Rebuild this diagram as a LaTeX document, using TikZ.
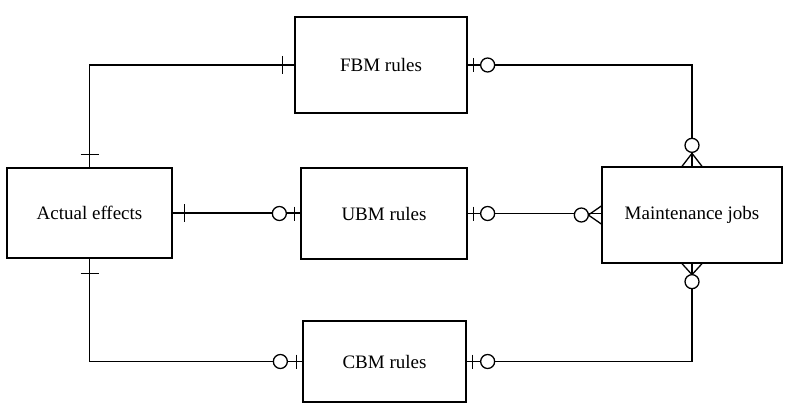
\documentclass[tikz,border=0pt]{standalone}
\usepackage{fontspec}
\setmainfont{Liberation Serif}
\begin{document}
\begin{tikzpicture}[x=1pt,y=-1pt,
  ent/.style={draw,line width=1.3pt,rectangle,inner sep=0pt,font=\fontsize{19}{22}\selectfont},
  conn/.style={line width=1.3pt},
  mk/.style={line width=1.3pt},
  ring/.style={line width=1.3pt,fill=white}]
\useasboundingbox (0,0) rectangle (787,412);
% entities
\node[ent,minimum width=172pt,minimum height=96pt] (fbm) at (381,65) {FBM rules};
\node[ent,minimum width=165pt,minimum height=90pt] (ae) at (89.5,213) {Actual effects};
\node[ent,minimum width=166pt,minimum height=91pt] (ubm) at (384,213.5) {UBM rules};
\node[ent,minimum width=163pt,minimum height=81pt] (cbm) at (384.5,361.5) {CBM rules};
\node[ent,minimum width=180pt,minimum height=96pt] (mj) at (692,215) {Maintenance jobs};
% connectors
\draw[conn] (fbm.west) -| (ae.north);
\draw[conn] (fbm.east) -| (mj.north);
\draw[conn] (ae.east) -- (ae.east -| ubm.west);
\draw[conn] (ubm.east) -- (ubm.east -| mj.west);
\draw[conn] (ae.south) |- (cbm.west);
\draw[conn] (mj.south) |- (cbm.east);
% FBM -- AE : one and only one at both ends
\draw[mk] ([xshift=-12pt]fbm.west) ++(0,-9) -- ++(0,18);
\draw[mk] ([yshift=13pt]ae.north) ++(-9,0) -- ++(18,0);
% FBM -- MJ : zero-or-one at FBM, zero-or-many at MJ
\draw[mk] ([xshift=6pt]fbm.east) ++(0,-7) -- ++(0,14);
\draw[ring] ([xshift=20pt]fbm.east) circle (7pt);
\draw[mk] ([xshift=-10pt]mj.north) -- ([yshift=13pt]mj.north) -- ([xshift=10pt]mj.north);
\draw[ring] ([yshift=21pt]mj.north) circle (7pt);
% AE -- UBM
\draw[mk] ([xshift=12pt]ae.east) ++(0,-9) -- ++(0,18);
\draw[ring] ([xshift=-21pt]ubm.west) circle (7pt);
\draw[mk] ([xshift=-6pt]ubm.west) ++(0,-7) -- ++(0,14);
% UBM -- MJ
\draw[mk] ([xshift=6pt]ubm.east) ++(0,-7) -- ++(0,14);
\draw[ring] ([xshift=20pt]ubm.east) circle (7pt);
\draw[mk] ([yshift=9pt]mj.west) -- ([xshift=-13pt]mj.west) -- ([yshift=-9pt]mj.west);
\draw[ring] ([xshift=-20pt]mj.west) circle (7pt);
% AE -- CBM
\draw[mk] ([yshift=-15pt]ae.south) ++(-9,0) -- ++(18,0);
\draw[ring] ([xshift=-22pt]cbm.west) circle (7pt);
\draw[mk] ([xshift=-6pt]cbm.west) ++(0,-7) -- ++(0,14);
% MJ -- CBM
\draw[mk] ([xshift=-10pt]mj.south) -- ([yshift=-11pt]mj.south) -- ([xshift=10pt]mj.south);
\draw[ring] ([yshift=-18pt]mj.south) circle (7pt);
\draw[mk] ([xshift=6pt]cbm.east) ++(0,-7) -- ++(0,14);
\draw[ring] ([xshift=21pt]cbm.east) circle (7pt);
\end{tikzpicture}
\end{document}
